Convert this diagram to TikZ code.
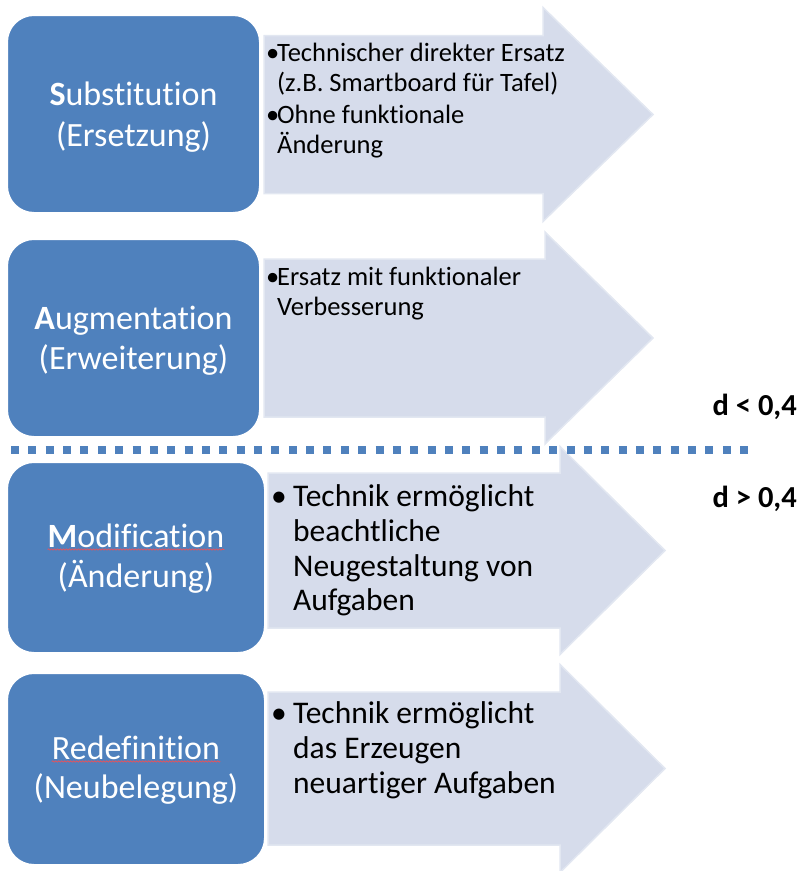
\documentclass[tikz,border=0pt]{standalone}
\usepackage{fontspec}
\setmainfont{Carlito}[Ligatures={NoCommon}]
\usetikzlibrary{decorations.pathmorphing}
\definecolor{boxblue}{RGB}{79,129,189}
\definecolor{arrowfill}{RGB}{214,220,235}
\definecolor{arrowedge}{RGB}{226,231,241}
\tikzset{
  catbox/.style={rectangle, rounded corners=27pt, fill=boxblue, draw=white,
    line width=2pt, inner sep=0pt},
  boxtext/.style={anchor=base, inner sep=0pt, text=white,
    font=\fontsize{34}{40}\selectfont},
  smalltext/.style={anchor=base west, inner sep=0pt,
    font=\fontsize{26.5}{30}\selectfont},
  bigtext/.style={anchor=base west, inner sep=0pt,
    font=\fontsize{31.5}{35}\selectfont},
  bandarrow/.style={fill=arrowfill, draw=arrowedge, line width=1.5pt},
  dlabel/.style={anchor=base east, inner sep=0pt,
    font=\fontsize{30.5}{34}\selectfont\bfseries},
  separator/.style={draw=boxblue, line width=8pt, dash pattern=on 8pt off 9.36pt},
  spellmark/.style={draw=red!70!white, line width=0.6pt, decorate,
    decoration={snake, amplitude=0.7pt, segment length=3pt}},
}
\begin{document}
\begin{tikzpicture}[x=1pt,y=-1pt]
\useasboundingbox (0,0) rectangle (801,871);

% block arrows behind the level boxes
\path[bandarrow] (264,35.5) -- (543,35.5) -- (543,7.5) -- (653,114.5)
  -- (543,221.5) -- (543,193.5) -- (264,193.5) -- cycle;
\path[bandarrow] (264,259) -- (545,259) -- (545,232) -- (653,338)
  -- (545,444) -- (545,417) -- (264,417) -- cycle;
\path[bandarrow] (268,473) -- (560,473) -- (560,446.5) -- (665,550.5)
  -- (560,654.5) -- (560,628) -- (268,628) -- cycle;
\path[bandarrow] (268,692) -- (560,692) -- (560,664.5) -- (665,768.5)
  -- (560,872.5) -- (560,845) -- (268,845) -- cycle;

% level boxes
\node[catbox, minimum width=253pt, minimum height=198pt] (sub) at (133.5,114) {};
\node[catbox, minimum width=253pt, minimum height=198pt] (aug) at (133.5,338) {};
\node[catbox, minimum width=258pt, minimum height=191pt] (mod) at (136,557.5) {};
\node[catbox, minimum width=258pt, minimum height=192pt] (red) at (136,769) {};

% box captions
\node[boxtext] (sub1) at (133.5,105) {\textbf{S}ubstitution};
\node[boxtext] (sub2) at (133.5,146) {(Ersetzung)};
\node[boxtext] (aug1) at (133.5,329) {\textbf{A}ugmentation};
\node[boxtext] (aug2) at (133.5,369) {(Erweiterung)};
\node[boxtext] (mod1) at (136,547) {\textbf{M}odification};
\node[boxtext] (mod2) at (136,587) {(Änderung)};
\node[boxtext] (red1) at (136,759) {Redefinition};
\node[boxtext] (red2) at (136,798) {(Neubelegung)};

% spell-check marks under two captions
\draw[spellmark] ([yshift=-2.5pt]mod1.base west) -- ([yshift=-2.5pt]mod1.base east);
\draw[spellmark] ([yshift=-2.5pt]red1.base west) -- ([yshift=-2.5pt]red1.base east);

% arrow texts, level S
\node[smalltext] (sb1) at (266,61) {•};
\node[smalltext] (st1) at (277,61) {Technischer direkter Ersatz};
\node[smalltext] (st2) at (277,91) {(z.B. Smartboard für Tafel)};
\node[smalltext] (sb2) at (266,123) {•};
\node[smalltext] (st3) at (277,123) {Ohne funktionale};
\node[smalltext] (st4) at (277,153) {Änderung};

% level A
\node[smalltext] (ab1) at (266,285) {•};
\node[smalltext] (at1) at (277,285) {Ersatz mit funktionaler};
\node[smalltext] (at2) at (277,315) {Verbesserung};

% level M
\node[bigtext] (mb1) at (271,506.5) {•};
\node[bigtext] (mt1) at (293,506.5) {Technik ermöglicht};
\node[bigtext] (mt2) at (293,541.5) {beachtliche};
\node[bigtext] (mt3) at (293,576.5) {Neugestaltung von};
\node[bigtext] (mt4) at (293,610.5) {Aufgaben};

% level R
\node[bigtext] (rb1) at (271,723) {•};
\node[bigtext] (rt1) at (293,723) {Technik ermöglicht};
\node[bigtext] (rt2) at (293,758) {das Erzeugen};
\node[bigtext] (rt3) at (293,793) {neuartiger Aufgaben};

% effect-size threshold
\coordinate (sepL) at (11,450);
\coordinate (sepR) at (748,450);
\draw[separator] (sepL) -- (sepR);
\node[dlabel] (dlow) at (797,415) {d < 0,4};
\node[dlabel] (dhigh) at (797,507) {d > 0,4};
\end{tikzpicture}
\end{document}
